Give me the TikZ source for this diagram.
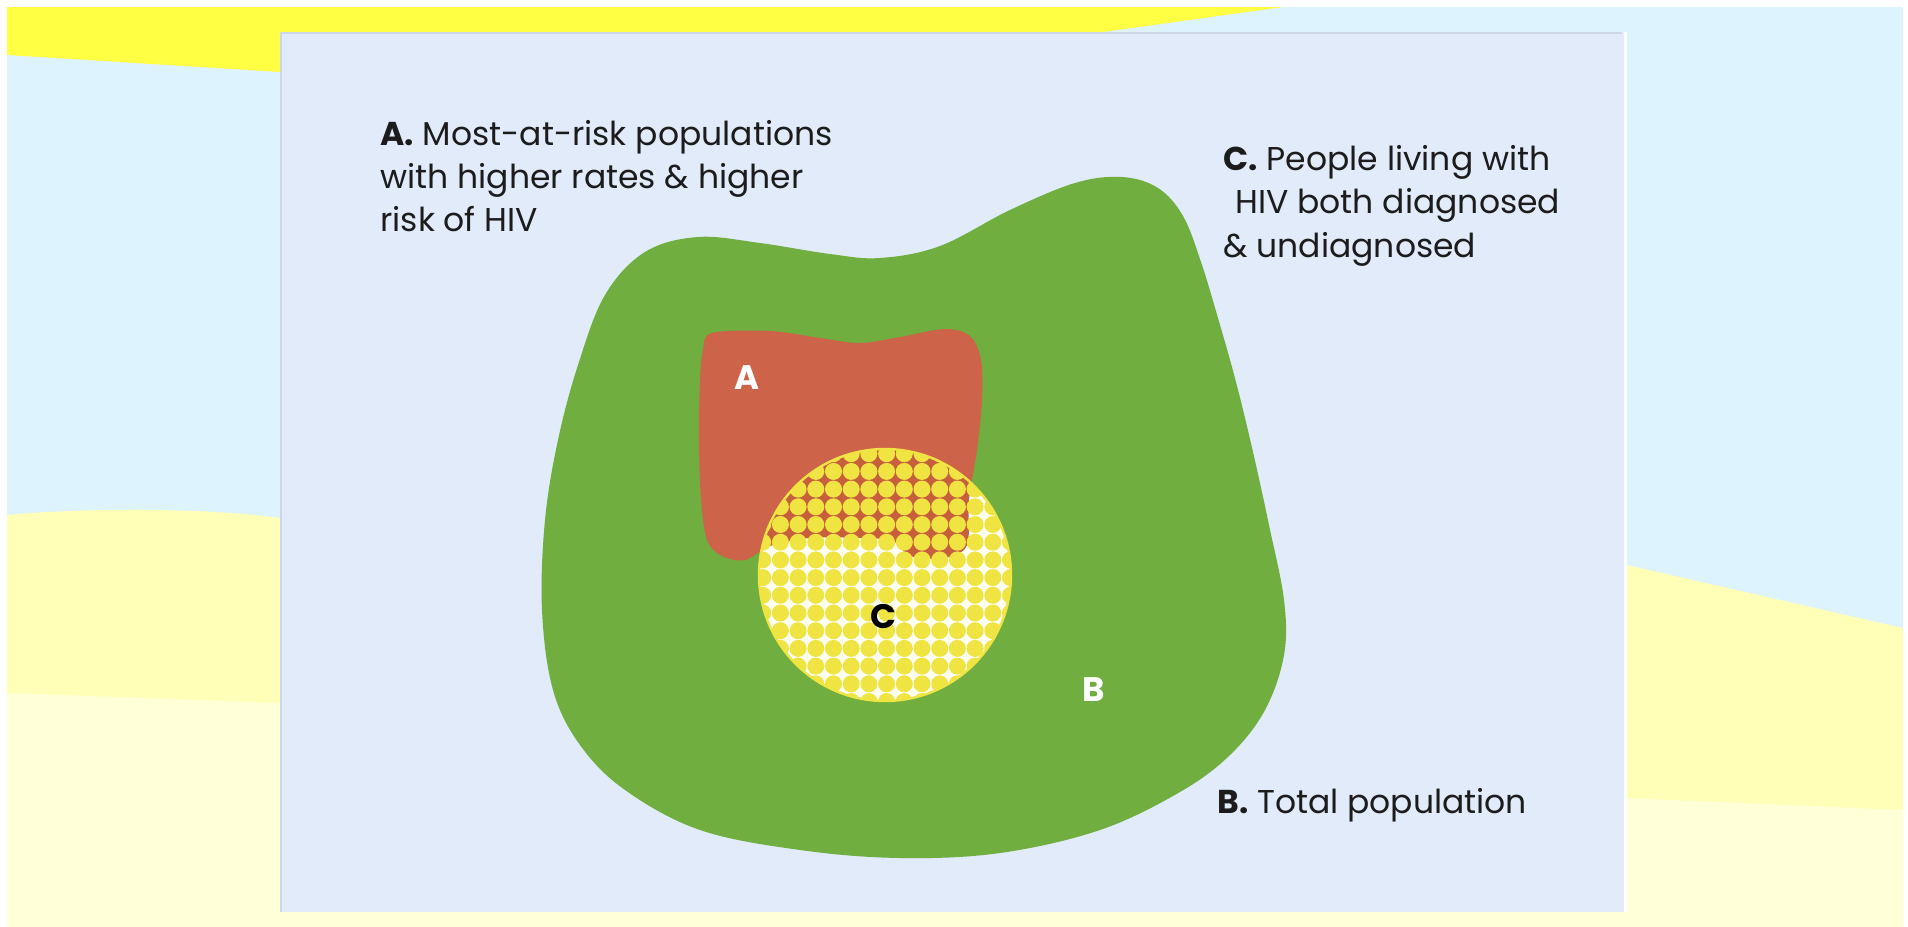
\documentclass[tikz,border=0pt]{standalone}
\usepackage{fontspec}
\setmainfont{Poppins}
\definecolor{skyblue}{HTML}{DDF3FD}
\definecolor{topyellow}{HTML}{FFFF44}
\definecolor{bandyellow}{HTML}{FFFFB8}
\definecolor{paleyellow}{HTML}{FFFFD8}
\definecolor{panelblue}{HTML}{E1EBFA}
\definecolor{panelshadow}{HTML}{CCD8E8}
\definecolor{popgreen}{HTML}{6FAE3F}
\definecolor{riskred}{HTML}{CD6348}
\definecolor{gapred}{HTML}{C75F3C}
\definecolor{dotyellow}{HTML}{F0E443}
\definecolor{circbg}{HTML}{FFFFF4}
\definecolor{textdark}{HTML}{1C1C1C}
\tikzset{
  caption/.style={anchor=base west, inner sep=0pt, text=textdark, font=\fontsize{16.5}{20}\selectfont},
  shapelabel/.style={inner sep=0pt, font=\fontsize{17}{20}\selectfont\bfseries},
}
\begin{document}
\begin{tikzpicture}[x=0.5pt,y=-0.5pt]
\useasboundingbox (0,0) rectangle (1908,927);
\fill[white] (0,0) rectangle (1908,927);
% outer background bands
\fill[skyblue] (7,7) rectangle (1903,927);
\fill[topyellow] (7,7) -- (1283,7) -- (1103,32) -- (280,72) -- (7,55) -- cycle;
\fill[bandyellow] (7,515) .. controls (80,508) and (200,507) .. (280,518) -- (1627,565) -- (1903,628) -- (1903,927) -- (7,927) -- cycle;
\fill[paleyellow] (7,693) -- (280,703) -- (1627,798) -- (1903,810) -- (1903,927) -- (7,927) -- cycle;
% panel
\fill[panelblue] (280,32) rectangle (1627,912);
\draw[panelshadow, line width=0.8pt] (281,912) -- (281,33) -- (1622,33);
\draw[white, line width=1.5pt] (1625,32) -- (1625,912);
% B: total population
\fill[popgreen] plot[smooth cycle, tension=0.6] coordinates {
 (698,237) (760,243) (830,254) (880,258) (940,246) (1010,210) (1075,183)
 (1122,177) (1158,188) (1183,216) (1201,262) (1218,318) (1236,382) (1253,452)
 (1269,525) (1284,600) (1284,655) (1265,710) (1230,755) (1180,792) (1100,830)
 (1000,853) (900,858) (800,850) (700,830) (625,790) (580,745) (553,690)
 (542,610) (545,520) (558,440) (578,365) (605,295) (645,252)};
% A: most-at-risk
\fill[riskred] plot[smooth cycle, tension=0.55] coordinates {
 (712,333) (770,331) (820,338) (860,343) (900,337) (945,329) (970,336)
 (981,360) (982,400) (977,450) (969,500) (967,545) (945,558) (910,556)
 (893,541) (860,538) (810,538) (770,546) (745,560) (722,556) (707,540)
 (701,500) (699,440) (700,380) (703,350)};
% C: people living with HIV
\begin{scope}
  \clip (885,575) circle [radius=126];
  \fill[circbg] (885,575) circle [radius=126];
  \fill[gapred] plot[smooth cycle, tension=0.55] coordinates {
   (712,333) (770,331) (820,338) (860,343) (900,337) (945,329) (970,336)
   (981,360) (982,400) (977,450) (969,500) (967,545) (945,558) (910,556)
   (893,541) (860,538) (810,538) (770,546) (745,560) (722,556) (707,540)
   (701,500) (699,440) (700,380) (703,350)};
  \foreach \i in {0,...,16} {
    \foreach \j in {0,...,16} {
      \fill[dotyellow] (745+\i*17.7, 436+\j*17.7) circle [radius=8.5];
    }
  }
\end{scope}
\draw[dotyellow, line width=1.2pt] (885,575) circle [radius=126];
% shape labels
\node[shapelabel, text=white] (labA) at (747,378) {A};
\node[shapelabel, text=white] (labB) at (1094,690) {B};
\node[shapelabel, text=black] (labC) at (883,617) {C};
% captions
\node[caption] (ta1) at (380,145) {\textbf{A.} Most-at-risk populations};
\node[caption] (ta2) at (380,188) {with higher rates \& higher};
\node[caption] (ta3) at (380,231) {risk of HIV};
\node[caption] (tc1) at (1223,170) {\textbf{C.} People living with};
\node[caption] (tc2) at (1235,213) {HIV both diagnosed};
\node[caption] (tc3) at (1223,257) {\& undiagnosed};
\node[caption] (tb1) at (1217,813) {\textbf{B.} Total population};
\end{tikzpicture}
\end{document}
